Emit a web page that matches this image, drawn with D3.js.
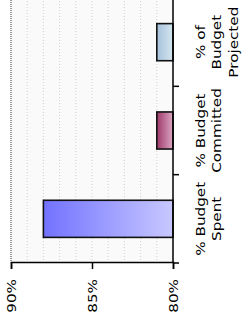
<!DOCTYPE html>
<html>
<head>
<meta charset="utf-8">
<script src="https://cdn.jsdelivr.net/npm/d3@7/dist/d3.min.js"></script>
<style>
    body { margin: 0; background: #fff; }
    svg { display: block; }
    text { font-family: "DejaVu Sans", Verdana, sans-serif; font-size: 13px; fill: #000; }
</style>
</head>
<body>
<svg id="chart" width="243" height="323"></svg>
<script>
// Chart data
const categories = ['% Budget Spent', '% Budget Committed', '% of Budget Projected'];
const categoryLines = [['% Budget', 'Spent'], ['% Budget', 'Committed'], ['% of', 'Budget', 'Projected']];
const values = [88, 81, 81];
const valueTicks = [80, 85, 90];
const gridTicks = [81, 82, 83, 84, 85, 86, 87, 88, 89];
const barColors = [['#7272ff', '#c8c8ff'], ['#9e3a6a', '#dba6c4'], ['#a6c2dc', '#d6e6f0']];

// the picture is stretched along the text direction
const stretch = 1.17;

function drawChart() {
    const svg = d3.select('#chart');
    // the chart is laid out as a column chart and turned a quarter to the left
    const W = 323;
    const g = svg.append('g').attr('transform', `translate(0,${W}) rotate(-90)`);

    const x = d3.scaleBand()
        .domain(categories)
        .range([60, 325])
        .paddingInner(0.58)
        .paddingOuter(0.29);

    const y = d3.scaleLinear()
        .domain([80, 90])
        .range([173, 11]);

    // gradients
    const defs = svg.append('defs');
    categories.forEach((c, i) => {
        const grad = defs.append('linearGradient')
            .attr('id', 'grad' + i)
            .attr('x1', 0).attr('y1', 0).attr('x2', 0).attr('y2', 1);
        grad.append('stop').attr('offset', '0%').attr('stop-color', barColors[i][0]);
        grad.append('stop').attr('offset', '100%').attr('stop-color', barColors[i][1]);
    });

    // plot background
    g.append('rect')
        .attr('x', 60).attr('y', y(90))
        .attr('width', W)
        .attr('height', y(80) - y(90))
        .attr('fill', '#fafafa');

    // grid lines
    g.selectAll('.grid')
        .data(gridTicks)
        .enter().append('line')
        .attr('x1', 60).attr('x2', W + 5)
        .attr('y1', d => y(d)).attr('y2', d => y(d))
        .attr('stroke', '#d0d0d0')
        .attr('stroke-dasharray', '1,2');

    g.append('line')
        .attr('x1', 60).attr('x2', W + 5)
        .attr('y1', y(90)).attr('y2', y(90))
        .attr('stroke', '#333')
        .attr('stroke-dasharray', '1,1');

    // bars
    g.selectAll('.bar')
        .data(values)
        .enter().append('rect')
        .attr('x', (d, i) => x(categories[i]))
        .attr('width', x.bandwidth())
        .attr('y', d => y(d))
        .attr('height', d => y(80) - y(d))
        .attr('fill', (d, i) => `url(#grad${i})`)
        .attr('stroke', '#111')
        .attr('stroke-width', 1.6);

    // value axis
    const valueAxis = d3.axisLeft(y)
        .tickValues(valueTicks)
        .tickSize(6)
        .tickFormat(d => d + '%');
    const ya = g.append('g')
        .attr('transform', 'translate(60,0)')
        .call(valueAxis);
    ya.select('.domain').attr('stroke', '#000').attr('stroke-width', 1.5);
    ya.selectAll('.tick line').attr('stroke', '#000').attr('stroke-width', 1.5);
    ya.selectAll('text')
        .attr('x', 0)
        .attr('transform', `translate(-16,0) scale(${stretch},1)`)
        .style('font-size', '13px')
        .style('font-family', '"DejaVu Sans", Verdana, sans-serif');

    // category axis
    g.append('line')
        .attr('x1', 60).attr('x2', W + 5)
        .attr('y1', y(80)).attr('y2', y(80))
        .attr('stroke', '#000').attr('stroke-width', 1.5);

    const step = x.step();
    const bounds = [60].concat(categories.map(c => x(c) + x.bandwidth() + step * x.paddingInner() / 2));
    g.selectAll('.ctick')
        .data(bounds)
        .enter().append('line')
        .attr('x1', d => d).attr('x2', d => d)
        .attr('y1', y(80)).attr('y2', y(80) + 6)
        .attr('stroke', '#000').attr('stroke-width', 1.5);

    categories.forEach((c, i) => {
        const t = g.append('text')
            .attr('text-anchor', 'middle')
            .attr('transform', `translate(${x(c) + x.bandwidth() / 2},${y(80) + 32}) scale(${stretch},1)`);
        categoryLines[i].forEach((line, j) => {
            t.append('tspan')
                .attr('x', 0)
                .attr('dy', j === 0 ? 0 : 16.5)
                .text(line);
        });
    });
}

document.addEventListener('DOMContentLoaded', drawChart);
</script>
</body>
</html>
